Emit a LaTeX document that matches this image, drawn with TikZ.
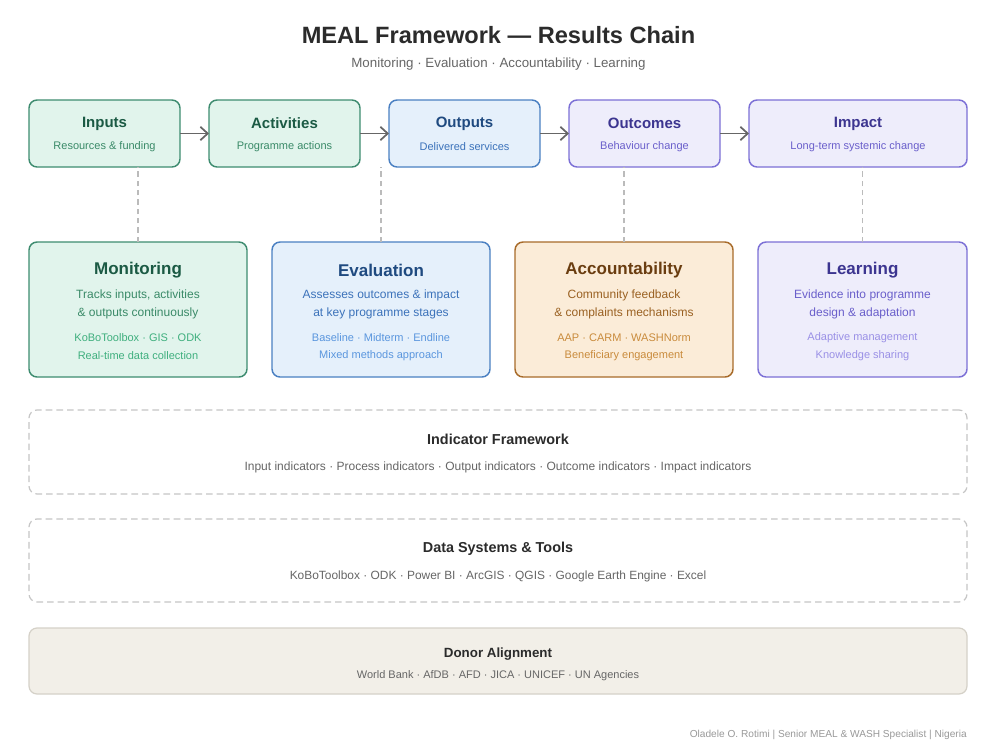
\documentclass[tikz,border=0pt]{standalone}
\usepackage{fontspec}
\setmainfont{Liberation Sans}
\usetikzlibrary{arrows.meta}
\definecolor{gfill}{HTML}{E1F4EC}
\definecolor{gdraw}{HTML}{3E8C70}
\definecolor{gtitle}{HTML}{1B5A44}
\definecolor{gsub}{HTML}{3A8A68}
\definecolor{glight}{HTML}{3FAF7E}
\definecolor{bfill}{HTML}{E5F0FB}
\definecolor{bdraw}{HTML}{4A80C2}
\definecolor{btitle}{HTML}{1F4A80}
\definecolor{bsub}{HTML}{3B72BA}
\definecolor{blight}{HTML}{5A96DE}
\definecolor{pfill}{HTML}{EEEDFB}
\definecolor{pdraw}{HTML}{7C70D6}
\definecolor{ptitle}{HTML}{3C3590}
\definecolor{psub}{HTML}{6A5FCB}
\definecolor{plight}{HTML}{9A90E6}
\definecolor{ofill}{HTML}{FBECD8}
\definecolor{odraw}{HTML}{A86B2A}
\definecolor{otitle}{HTML}{6A3D10}
\definecolor{osub}{HTML}{9A6122}
\definecolor{olight}{HTML}{C98B3C}
\definecolor{arrowc}{HTML}{666666}
\definecolor{dashc}{HTML}{BBBBBB}
\definecolor{boxdash}{HTML}{C6C6C6}
\definecolor{donorfill}{HTML}{F2EFE8}
\definecolor{donordraw}{HTML}{D5D1C8}
\definecolor{darktext}{HTML}{2B2B2B}
\definecolor{midtext}{HTML}{666666}
\definecolor{foottext}{HTML}{999999}
\tikzset{
  box/.style={rounded corners=6pt, line width=1.1pt, outer sep=0pt, inner sep=0pt},
  topbox/.style={box, minimum width=113.25pt, minimum height=50.25pt},
  midbox/.style={box, minimum width=163.5pt, minimum height=101.25pt},
  widebox/.style={rounded corners=6pt, line width=0.9pt, outer sep=0pt, inner sep=0pt, minimum width=703.5pt},
  txt/.style={inner sep=0pt, yshift=-1.1pt},
  ttl/.style={txt, font=\bfseries\fontsize{11.25pt}{13pt}\selectfont},
  tsub/.style={txt, font=\fontsize{8.25pt}{10pt}\selectfont},
  mttl/.style={txt, font=\bfseries\fontsize{12.75pt}{15pt}\selectfont},
  msub/.style={txt, font=\fontsize{9pt}{11pt}\selectfont},
  mlight/.style={txt, font=\fontsize{8.25pt}{10pt}\selectfont},
  flow/.style={draw=arrowc, line width=1.3pt, -{Straight Barb[length=5.5pt,width=10pt,line width=1.3pt]}},
  link/.style={draw=dashc, line width=0.9pt, dash pattern=on 4pt off 3pt},
}
\begin{document}
\begin{tikzpicture}[x=0.75pt,y=-0.75pt]
\fill[white] (0,0) rectangle (1000,750);
\useasboundingbox (0,0) rectangle (1000,750);
% title
\node[txt, font=\bfseries\fontsize{17.7pt}{20pt}\selectfont, text=darktext] (title) at (498.5,34) {MEAL Framework — Results Chain};
\node[txt, font=\fontsize{10pt}{12pt}\selectfont, text=midtext] (subtitle) at (498.5,63) {Monitoring · Evaluation · Accountability · Learning};
% top row
\node[topbox, fill=gfill, draw=gdraw] (inputs) at (104.5,133.5) {};
\node[topbox, fill=gfill, draw=gdraw] (activities) at (284.5,133.5) {};
\node[topbox, fill=bfill, draw=bdraw] (outputs) at (464.5,133.5) {};
\node[topbox, fill=pfill, draw=pdraw] (outcomes) at (644.5,133.5) {};
\node[topbox, fill=pfill, draw=pdraw, minimum width=163.5pt] (impact) at (858,133.5) {};
\node[ttl, text=gtitle] (inputsT) at (104.5,122) {Inputs};
\node[tsub, text=gsub] (inputsS) at (104.5,145) {Resources \& funding};
\node[ttl, text=gtitle] (activitiesT) at (284.5,122) {Activities};
\node[tsub, text=gsub] (activitiesS) at (284.5,145) {Programme actions};
\node[ttl, text=btitle] (outputsT) at (464.5,122) {Outputs};
\node[tsub, text=bsub] (outputsS) at (464.5,145) {Delivered services};
\node[ttl, text=ptitle] (outcomesT) at (644.5,122) {Outcomes};
\node[tsub, text=psub] (outcomesS) at (644.5,145) {Behaviour change};
\node[ttl, text=ptitle] (impactT) at (858,122) {Impact};
\node[tsub, text=psub] (impactS) at (858,145) {Long-term systemic change};
\draw[flow] (inputs.east) -- (activities.west);
\draw[flow] (activities.east) -- (outputs.west);
\draw[flow] (outputs.east) -- (outcomes.west);
\draw[flow] (outcomes.east) -- (impact.west);
% middle row
\node[midbox, fill=gfill, draw=gdraw] (mon) at (138,309.5) {};
\node[midbox, fill=bfill, draw=bdraw] (eval) at (381,309.5) {};
\node[midbox, fill=ofill, draw=odraw] (acc) at (624,309.5) {};
\node[midbox, fill=pfill, draw=pdraw, minimum width=156.75pt] (learn) at (862.5,309.5) {};
\draw[link] (mon.north) -- (mon.north |- inputs.south);
\draw[link] (eval.north) -- (eval.north |- activities.south);
\draw[link] (acc.north) -- (acc.north |- outcomes.south);
\draw[link] (learn.north) -- (learn.north |- impact.south);
\node[mttl, text=gtitle] (monT) at (138,269) {Monitoring};
\node[msub, text=gsub] (monA) at (138,294) {Tracks inputs, activities};
\node[msub, text=gsub] (monB) at (138,312) {\& outputs continuously};
\node[mlight, text=glight] (monC) at (138,336) {KoBoToolbox · GIS · ODK};
\node[mlight, text=glight] (monD) at (138,354) {Real-time data collection};
\node[mttl, text=btitle] (evalT) at (381,269) {Evaluation};
\node[msub, text=bsub] (evalA) at (381,294) {Assesses outcomes \& impact};
\node[msub, text=bsub] (evalB) at (381,312) {at key programme stages};
\node[mlight, text=blight] (evalC) at (381,336) {Baseline · Midterm · Endline};
\node[mlight, text=blight] (evalD) at (381,354) {Mixed methods approach};
\node[mttl, text=otitle] (accT) at (624,269) {Accountability};
\node[msub, text=osub] (accA) at (624,294) {Community feedback};
\node[msub, text=osub] (accB) at (624,312) {\& complaints mechanisms};
\node[mlight, text=olight] (accC) at (624,336) {AAP · CARM · WASHNorm};
\node[mlight, text=olight] (accD) at (624,354) {Beneficiary engagement};
\node[mttl, text=ptitle] (learnT) at (862.5,269) {Learning};
\node[msub, text=psub] (learnA) at (862.5,294) {Evidence into programme};
\node[msub, text=psub] (learnB) at (862.5,312) {design \& adaptation};
\node[mlight, text=plight] (learnC) at (862.5,336) {Adaptive management};
\node[mlight, text=plight] (learnD) at (862.5,354) {Knowledge sharing};
% indicator framework
\node[widebox, fill=white, draw=boxdash, dash pattern=on 5pt off 3pt, minimum height=63pt] (ind) at (498,452) {};
\node[txt, font=\bfseries\fontsize{10.8pt}{12pt}\selectfont, text=darktext] (indT) at (498,438) {Indicator Framework};
\node[txt, font=\fontsize{9pt}{10pt}\selectfont, text=midtext] (indS) at (498,466) {Input indicators · Process indicators · Output indicators · Outcome indicators · Impact indicators};
% data systems
\node[widebox, fill=white, draw=boxdash, dash pattern=on 5pt off 3pt, minimum height=62.25pt] (data) at (498,560.5) {};
\node[txt, font=\bfseries\fontsize{10.8pt}{12pt}\selectfont, text=darktext] (dataT) at (498,547) {Data Systems \& Tools};
\node[txt, font=\fontsize{8.95pt}{10pt}\selectfont, text=midtext] (dataS) at (498,575) {KoBoToolbox · ODK · Power BI · ArcGIS · QGIS · Google Earth Engine · Excel};
% donor
\node[widebox, fill=donorfill, draw=donordraw, minimum height=49.5pt] (donor) at (498,661) {};
\node[txt, font=\bfseries\fontsize{10pt}{12pt}\selectfont, text=darktext] (donorT) at (498,653) {Donor Alignment};
\node[txt, font=\fontsize{8.25pt}{10pt}\selectfont, text=midtext] (donorS) at (498,674) {World Bank · AfDB · AFD · JICA · UNICEF · UN Agencies};
% footer
\node[txt, font=\fontsize{7.6pt}{9pt}\selectfont, text=foottext, anchor=east] (footer) at (967,733) {Oladele O. Rotimi | Senior MEAL \& WASH Specialist | Nigeria};
\end{tikzpicture}
\end{document}
